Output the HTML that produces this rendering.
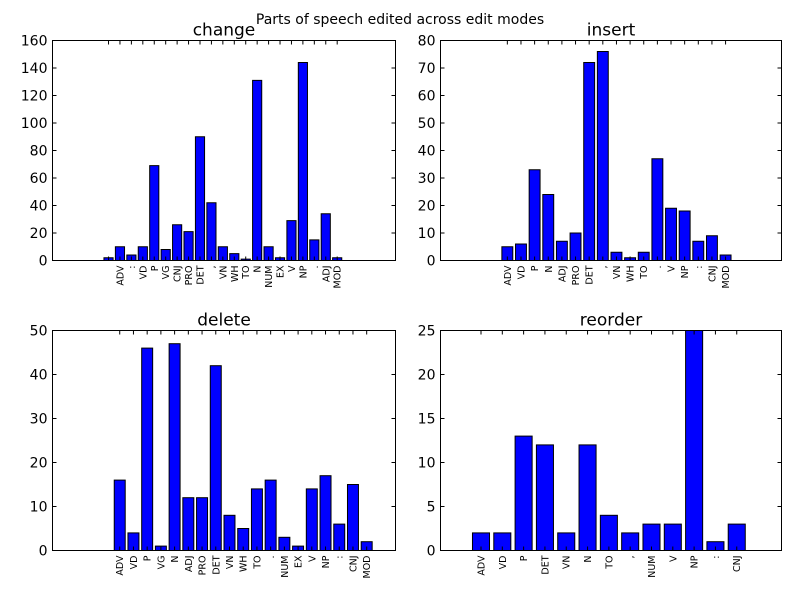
<!DOCTYPE html>
<html><head><meta charset="utf-8"><style>
html,body{margin:0;padding:0;background:#fff;}
svg{display:block;font-family:"DejaVu Sans","Liberation Sans",sans-serif;}
</style></head><body>
<svg id="fig" width="800" height="600" viewBox="0 0 800 600">
<rect x="0" y="0" width="800" height="600" fill="#fff"/>
<text x="400" y="24" text-anchor="middle" font-size="14">Parts of speech edited across edit modes</text>
</svg>
<script>
const changeCats = ['', 'ADV', ':', 'VD', 'P', 'VG', 'CNJ', 'PRO', 'DET', ',', 'VN', 'WH', 'TO', 'N', 'NUM', 'EX', 'V', 'NP', '.', 'ADJ', 'MOD'];
const changeVals = [2, 10, 4, 10, 69, 8, 26, 21, 90, 42, 10, 5, 1, 131, 10, 2, 29, 144, 15, 34, 2];
const changeTicks = [0, 20, 40, 60, 80, 100, 120, 140, 160];

const insertCats = ['ADV', 'VD', 'P', 'N', 'ADJ', 'PRO', 'DET', ',', 'VN', 'WH', 'TO', '.', 'V', 'NP', ':', 'CNJ', 'MOD'];
const insertVals = [5, 6, 33, 24, 7, 10, 72, 76, 3, 1, 3, 37, 19, 18, 7, 9, 2];
const insertTicks = [0, 10, 20, 30, 40, 50, 60, 70, 80];

const deleteCats = ['ADV', 'VD', 'P', 'VG', 'N', 'ADJ', 'PRO', 'DET', 'VN', 'WH', 'TO', '.', 'NUM', 'EX', 'V', 'NP', ':', 'CNJ', 'MOD'];
const deleteVals = [16, 4, 46, 1, 47, 12, 12, 42, 8, 5, 14, 16, 3, 1, 14, 17, 6, 15, 2];
const deleteTicks = [0, 10, 20, 30, 40, 50];

const reorderCats = ['ADV', 'VD', 'P', 'DET', 'VN', 'N', 'TO', ',', 'NUM', 'V', 'NP', ':', 'CNJ'];
const reorderVals = [2, 2, 13, 12, 2, 12, 4, 2, 3, 3, 25, 1, 3];
const reorderTicks = [0, 5, 10, 15, 20, 25];

const NS = 'http://www.w3.org/2000/svg';
const fig = document.getElementById('fig');
function mk(tag, attrs, parent){
  const e = document.createElementNS(NS, tag);
  for (const k in attrs) e.setAttribute(k, attrs[k]);
  (parent || fig).appendChild(e);
  return e;
}
function panel(name, title, cats, vals, ticks, box, xlim){
  const g = mk('g', {});
  
  
  const ymax = ticks[ticks.length - 1];
  const xs = v => box.x + (v - xlim[0]) / (xlim[1] - xlim[0]) * box.w;
  const ys = v => box.y + box.h - v / ymax * box.h;
  const t = mk('text', {x: box.x + box.w / 2, y: box.y - 5, 'text-anchor': 'middle', 'font-size': 17}, g);
  t.textContent = title;
  
  
  vals.forEach((v, i) => {
    const x0 = xs(i), x1 = xs(i + 0.8);
    const r = mk('rect', {x: x0, y: ys(v), width: x1 - x0, height: ys(0) - ys(v), fill: '#0000ff', stroke: '#000', 'stroke-width': 1}, g);
    
    
    const cx = xs(i + 0.4);
    mk('line', {x1: cx, x2: cx, y1: box.y + box.h, y2: box.y + box.h - 4, stroke: '#000'}, g);
    mk('line', {x1: cx, x2: cx, y1: box.y, y2: box.y + 4, stroke: '#000'}, g);
    const lb = mk('text', {x: 0, y: 0, 'font-size': 9.5, 'text-anchor': 'end', transform: `translate(${cx + 3.5},${box.y + box.h + 5}) rotate(-90)`}, g);
    lb.textContent = cats[i];
    
    
  });
  ticks.forEach(tv => {
    const y = ys(tv);
    mk('line', {x1: box.x, x2: box.x + 4, y1: y, y2: y, stroke: '#000'}, g);
    mk('line', {x1: box.x + box.w, x2: box.x + box.w - 4, y1: y, y2: y, stroke: '#000'}, g);
    const tl = mk('text', {x: box.x - 5, y: y + 5, 'text-anchor': 'end', 'font-size': 14}, g);
    tl.textContent = tv;
    
    
  });
  const fr = mk('rect', {x: box.x, y: box.y, width: box.w, height: box.h, fill: 'none', stroke: '#000', 'stroke-width': 1}, g);
  
  
}
panel('change', 'change', changeCats, changeVals, changeTicks, {x: 52.5, y: 40.5, w: 343, h: 220}, [-4.5, 25.5]);
panel('insert', 'insert', insertCats, insertVals, insertTicks, {x: 440.5, y: 40.5, w: 341, h: 220}, [-4.5, 20.5]);
panel('delete', 'delete', deleteCats, deleteVals, deleteTicks, {x: 52.5, y: 330.5, w: 343, h: 220}, [-4.5, 20.5]);
panel('reorder', 'reorder', reorderCats, reorderVals, reorderTicks, {x: 440.5, y: 330.5, w: 341, h: 220}, [-1.5, 14.5]);
</script>
</body></html>
